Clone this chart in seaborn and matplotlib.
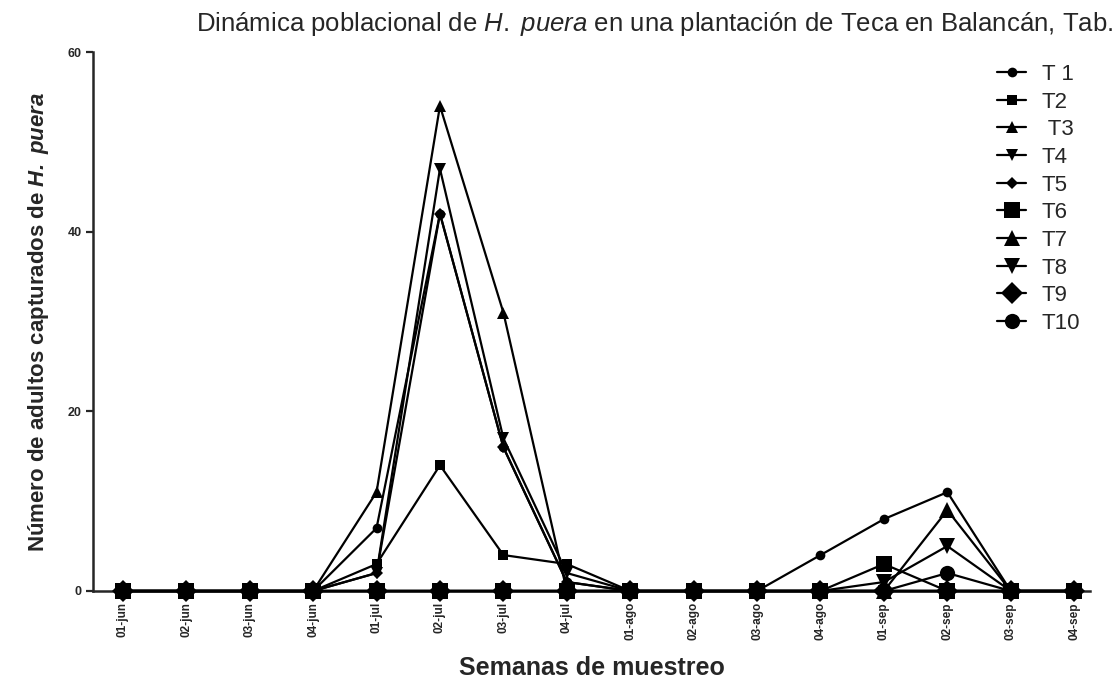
import pandas as pd
import seaborn as sns
import matplotlib.pyplot as plt

semanas = ["01-jun", "02-jun", "03-jun", "04-jun", "01-jul", "02-jul", "03-jul", "04-jul",
           "01-ago", "02-ago", "03-ago", "04-ago", "01-sep", "02-sep", "03-sep", "04-sep"]

t1 = [0, 0, 0, 0, 7, 42, 16, 1, 0, 0, 0, 4, 8, 11, 0, 0]
t2 = [0, 0, 0, 0, 3, 14, 4, 3, 0, 0, 0, 0, 0, 0, 0, 0]
t3 = [0, 0, 0, 0, 11, 54, 31, 0, 0, 0, 0, 0, 0, 0, 0, 0]
t4 = [0, 0, 0, 0, 2, 47, 17, 2, 0, 0, 0, 0, 0, 0, 0, 0]
t5 = [0, 0, 0, 0, 2, 42, 16, 1, 0, 0, 0, 0, 0, 0, 0, 0]
t6 = [0, 0, 0, 0, 0, 0, 0, 0, 0, 0, 0, 0, 3, 0, 0, 0]
t7 = [0, 0, 0, 0, 0, 0, 0, 0, 0, 0, 0, 0, 0, 9, 0, 0]
t8 = [0, 0, 0, 0, 0, 0, 0, 0, 0, 0, 0, 0, 1, 5, 0, 0]
t9 = [0, 0, 0, 0, 0, 0, 0, 0, 0, 0, 0, 0, 0, 0, 0, 0]
t10 = [0, 0, 0, 0, 0, 0, 0, 0, 0, 0, 0, 0, 0, 2, 0, 0]

series = {"T 1": t1, "T2": t2, " T3": t3, "T4": t4, "T5": t5,
          "T6": t6, "T7": t7, "T8": t8, "T9": t9, "T10": t10}
marcadores = ["o", "s", "^", "v", "D", "s", "^", "v", "D", "o"]
tamanos = [7, 7, 8, 8, 6, 11, 12, 12, 11, 11]

sns.set_style("ticks")
plt.rcParams["font.family"] = ["Liberation Sans", "DejaVu Sans"]
plt.rcParams["mathtext.fontset"] = "custom"
plt.rcParams["mathtext.rm"] = "Liberation Sans"
plt.rcParams["mathtext.it"] = "Liberation Sans:italic"
plt.rcParams["mathtext.bf"] = "Liberation Sans:bold"
plt.rcParams["mathtext.bfit"] = "Liberation Sans:bold:italic"

fig = plt.figure(figsize=(11.18, 6.8), dpi=100)
ax = fig.add_axes([0.0832, 0.1309, 0.8918, 0.7926])

handles = []
for (nombre, valores), m, s in zip(series.items(), marcadores, tamanos):
    df = pd.DataFrame({"x": range(len(semanas)), "y": valores})
    sns.lineplot(data=df, x="x", y="y", ax=ax, color="black", linewidth=1.6,
                 marker=m, markersize=s, markeredgewidth=0, label=nombre, legend=False)
    ax.lines[-1].set_clip_on(False)
    ax.lines[-1].set_zorder(3)
    handles.append(ax.lines[-1])

ax.set_xlim(-0.47, 15.25)
ax.set_ylim(0, 60)
ax.set_yticks([0, 20, 40, 60])
ax.set_xticks(range(len(semanas)))
ax.set_xticklabels(semanas, rotation=90, fontsize=8.5, fontweight="bold")
for lab in ax.get_yticklabels():
    lab.set_fontsize(9)
    lab.set_fontweight("bold")
ax.tick_params(axis="both", direction="out", width=1.6, length=5, pad=3)
sns.despine(ax=ax)
for sp in ["left", "bottom"]:
    ax.spines[sp].set_linewidth(1.8)

ax.set_xlabel("Semanas de muestreo", fontsize=18, fontweight="bold", labelpad=11)
ax.set_ylabel(r"Número de adultos capturados de $\mathbfit{H.}$ $\mathbfit{puera}$",
              fontsize=16, fontweight="bold", labelpad=12)

fig.text(0.996, 0.965, r"Dinámica poblacional de $\mathit{H.}$ $\mathit{puera}$ en una plantación de Teca en Balancán, Tab.",
         ha="right", va="center", fontsize=18.5)

ax.legend(handles=handles, labels=list(series.keys()), loc="upper right",
          bbox_to_anchor=(1.01, 1.015), frameon=False, fontsize=16,
          handlelength=1.3, labelspacing=0.3, handletextpad=0.7)

fig.savefig("out.png", dpi=100)
